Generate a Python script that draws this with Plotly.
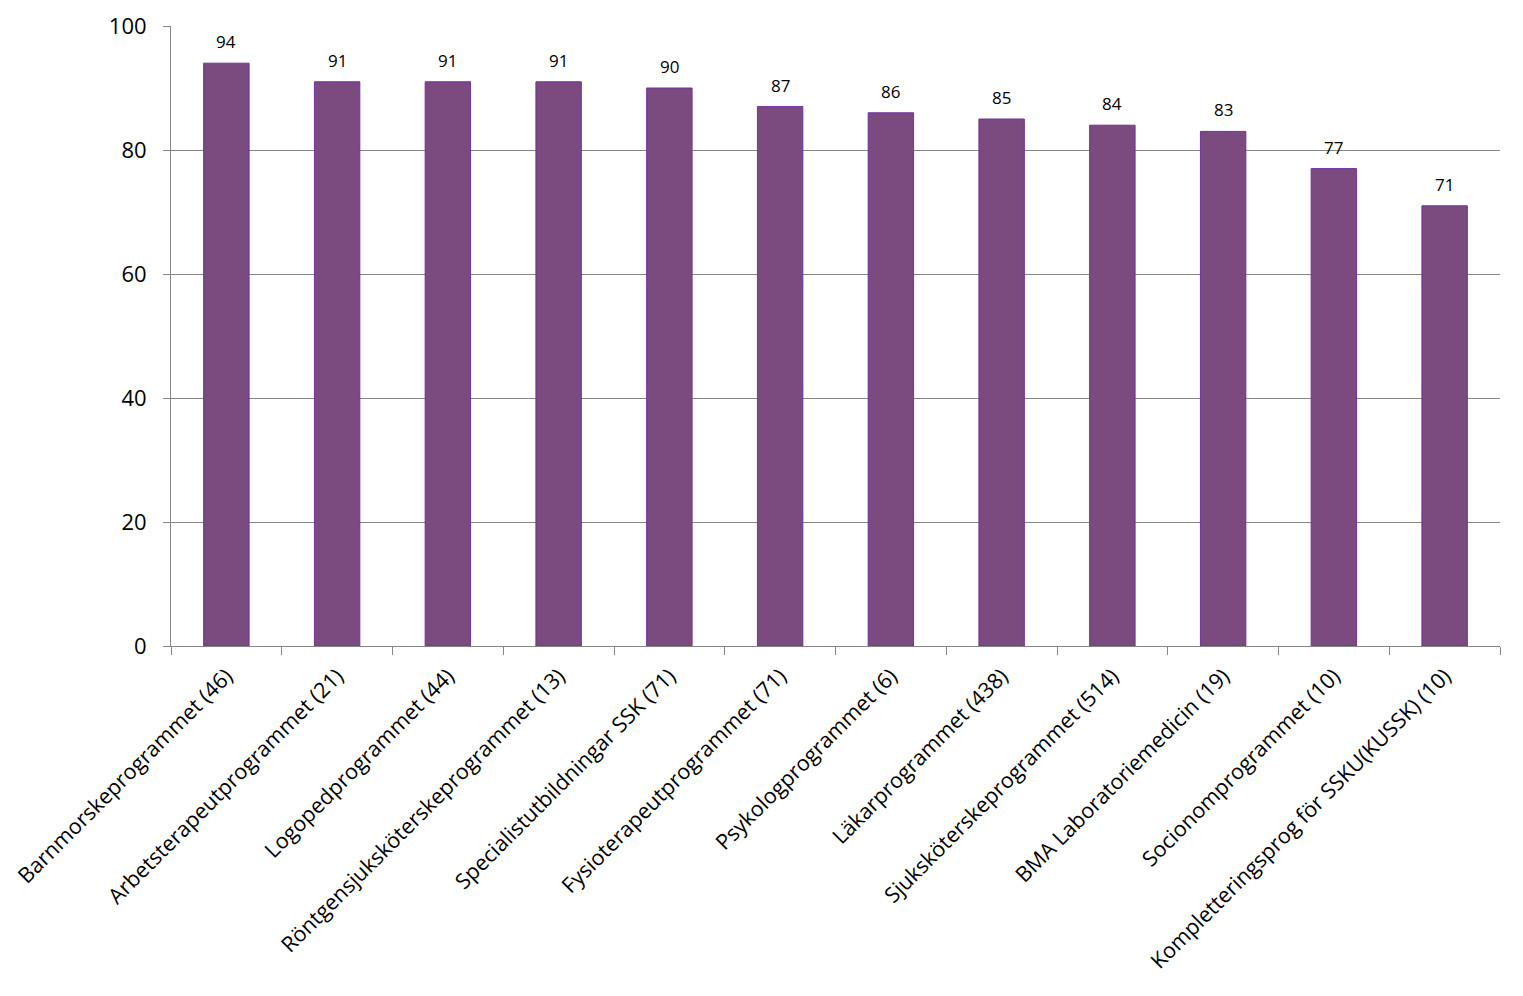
import plotly.graph_objects as go

categories = [
    "Barnmorskeprogrammet (46)",
    "Arbetsterapeutprogrammet (21)",
    "Logopedprogrammet (44)",
    "Röntgensjuksköterskeprogrammet (13)",
    "Specialistutbildningar SSK (71)",
    "Fysioterapeutprogrammet (71)",
    "Psykologprogrammet (6)",
    "Läkarprogrammet (438)",
    "Sjuksköterskeprogrammet (514)",
    "BMA Laboratoriemedicin (19)",
    "Socionomprogrammet (10)",
    "Kompletteringsprog för SSKU(KUSSK) (10)",
]
values = [94, 91, 91, 91, 90, 87, 86, 85, 84, 83, 77, 71]
y_ticks = [0, 20, 40, 60, 80, 100]

FONT = "Open Sans"

fig = go.Figure()
fig.add_trace(go.Bar(
    x=categories,
    y=values,
    marker=dict(color="#7B4A7F", line=dict(color="#7030A0", width=1)),
    width=0.41,
    hoverinfo="x+y",
))

for c, v in zip(categories, values):
    fig.add_annotation(
        x=c, y=v, text=str(v), showarrow=False,
        yanchor="bottom", yshift=8,
        font=dict(family=FONT, size=17, color="black"),
    )

fig.update_layout(
    width=1523, height=996,
    margin=dict(l=171, r=23, t=26, b=350),
    plot_bgcolor="white", paper_bgcolor="white",
    showlegend=False,
    font=dict(family=FONT, color="black"),
)
fig.update_xaxes(
    type="category",
    automargin=False,
    tickangle=-45,
    tickfont=dict(family=FONT, size=21.5, color="black"),
    ticklabelstandoff=8,
    showline=True, linecolor="#868686", linewidth=1,
    ticks="outside", tickson="boundaries", ticklen=8, tickcolor="#868686",
    showgrid=False,
)
fig.update_yaxes(
    range=[0, 100],
    automargin=False,
    tickvals=y_ticks,
    tickfont=dict(family=FONT, size=22, color="black"),
    ticklabelstandoff=12,
    showgrid=True, gridcolor="#868686", gridwidth=1,
    showline=True, linecolor="#868686", linewidth=1,
    ticks="outside", ticklen=7, tickcolor="#868686",
    zeroline=False,
)

fig.write_html("out.html")
